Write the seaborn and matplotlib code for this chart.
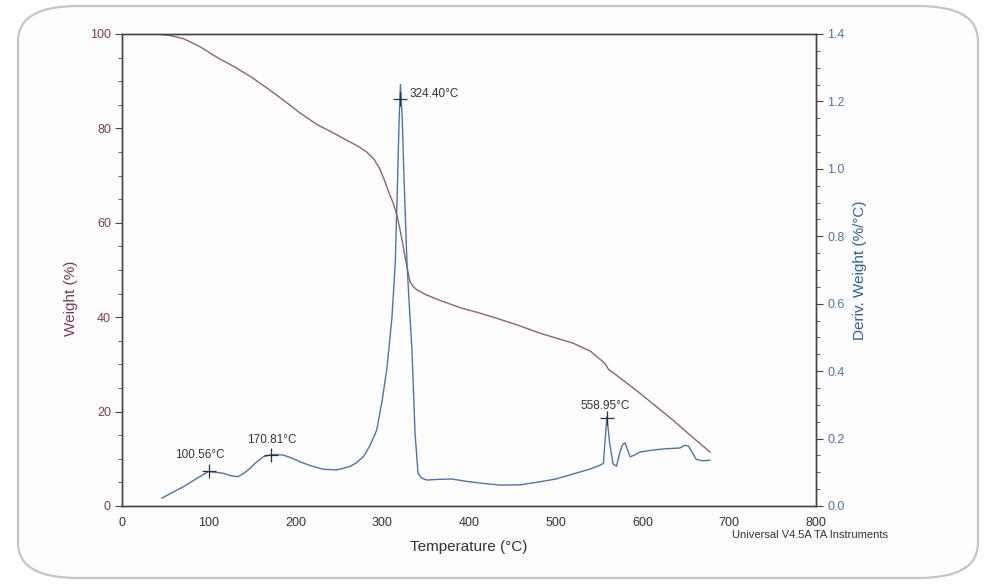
import matplotlib
matplotlib.use("Agg")
import matplotlib.pyplot as plt
from matplotlib.patches import FancyBboxPatch
import seaborn as sns
import pandas as pd

# ---------------- data ----------------
weight_T = [40, 55, 71, 90, 110, 130, 148, 166, 186, 205, 225, 244, 262, 274, 282, 290,
            297, 303, 309, 313, 317, 320, 323, 327, 332, 336, 340, 350, 366, 390, 410, 428,
            455, 482, 500, 520, 540, 555, 558, 561, 565, 580, 597, 615, 635, 655, 678]
weight_W = [100, 99.7, 99, 97.3, 95.0, 93.0, 91.0, 88.7, 86.0, 83.3, 80.8, 79.0, 77.2, 76.0,
            75.0, 73.6, 71.5, 68.8, 65.8, 64.0, 61.5, 59.0, 56.2, 52.0, 47.5, 46.4, 45.8,
            44.8, 43.6, 42.0, 41.0, 40.0, 38.4, 36.6, 35.6, 34.5, 32.8, 30.5, 29.8, 28.9,
            28.4, 26.3, 23.9, 21.2, 18.2, 15.0, 11.4]

deriv_T = [45.7, 58, 70.7, 85, 99.5, 108, 116.8, 125, 134, 141, 147.6, 155, 162.9, 170,
           176.4, 186, 196, 205.2, 218, 232, 247.5, 262.8, 270, 278.2, 286, 293.6, 299.7,
           305.5, 311.2, 315, 317.5, 319.5, 321, 323, 325, 328.5, 331.5, 334.3, 337.8,
           341.2, 345, 351.6, 365, 380, 400, 420, 436, 460, 482, 500, 520, 540, 552, 555,
           557, 559, 562, 566, 570, 574, 577, 580, 583, 585.6, 590, 597, 612, 628, 643,
           649, 653, 657, 662, 670, 678]
deriv_D = [0.023, 0.040, 0.057, 0.080, 0.102, 0.100, 0.097, 0.090, 0.087, 0.098, 0.112,
           0.130, 0.146, 0.151, 0.153, 0.151, 0.142, 0.131, 0.119, 0.109, 0.107, 0.117,
           0.128, 0.146, 0.180, 0.225, 0.31, 0.41, 0.56, 0.72, 0.95, 1.15, 1.25, 1.15,
           0.98, 0.72, 0.58, 0.46, 0.216, 0.098, 0.083, 0.077, 0.079, 0.080, 0.072, 0.066,
           0.062, 0.063, 0.072, 0.080, 0.095, 0.110, 0.122, 0.127, 0.20, 0.265, 0.19,
           0.125, 0.118, 0.16, 0.182, 0.187, 0.165, 0.146, 0.150, 0.160, 0.166, 0.170,
           0.172, 0.180, 0.178, 0.160, 0.138, 0.134, 0.136]

peak_T = [100.5, 172, 321, 559]
peak_D = [0.105, 0.152, 1.207, 0.26]
peak_labels = ["100.56°C", "170.81°C", "324.40°C", "558.95°C"]
label_T = [61, 144, 332, 528]
label_D = [0.151, 0.196, 1.222, 0.297]

x_ticks = [0, 100, 200, 300, 400, 500, 600, 700, 800]
w_ticks = [0, 20, 40, 60, 80, 100]
d_ticks = [0.0, 0.2, 0.4, 0.6, 0.8, 1.0, 1.2, 1.4]

# ---------------- style ----------------
sns.set_style("white")
plt.rcParams['font.family'] = ['Liberation Sans', 'DejaVu Sans']

W_COL = '#8c6470'
W_TXT = '#7a3a55'
D_COL = '#4f74a8'
D_TXT = '#2f5f9f'
AX_COL = '#444444'

fig = plt.figure(figsize=(9.89, 5.86), dpi=100)
fig.patch.set_facecolor('white')

# scanned-page rounded frame
frame = FancyBboxPatch((18 / 989, 8 / 586), (978 - 18) / 989, (580 - 8) / 586,
                       boxstyle="round,pad=0,rounding_size=0.06",
                       transform=fig.transFigure, facecolor='#fdfdfd',
                       edgecolor='#c4c4c4', lw=1.6, zorder=-10)
fig.patches.append(frame)

ax = fig.add_axes([122 / 989, 1 - 506 / 586, (816 - 122) / 989, (506 - 34) / 586])
ax.set_facecolor('none')
ax2 = ax.twinx()

dfw = pd.DataFrame({'T': weight_T, 'W': weight_W})
dfd = pd.DataFrame({'T': deriv_T, 'D': deriv_D})

sns.lineplot(data=dfw, x='T', y='W', ax=ax, color=W_COL, lw=1.0)
sns.lineplot(data=dfd, x='T', y='D', ax=ax2, color=D_COL, lw=1.0)

ax.set_xlim(0, 800)
ax.set_ylim(0, 100)
ax2.set_ylim(0, 1.4)

ax.set_xticks(x_ticks)
ax.set_xticks(range(0, 801, 50), minor=True)
ax.set_yticks(w_ticks)
ax.set_yticks(range(0, 101, 5), minor=True)
ax2.set_yticks(d_ticks)
ax2.set_yticks([i * 0.05 for i in range(29)], minor=True)
ax2.set_yticklabels([f"{v:.1f}" for v in d_ticks])

for a in (ax, ax2):
    for s in a.spines.values():
        s.set_color(AX_COL)
        s.set_linewidth(1.0)

ax.tick_params(axis='x', which='major', direction='out', length=5, width=0.8,
               colors=AX_COL, labelsize=9, labelcolor='#333333', pad=3)
ax.tick_params(axis='x', which='minor', direction='out', length=3, width=0.6, colors=AX_COL)
ax.tick_params(axis='y', which='major', direction='out', length=5, width=0.8,
               colors=AX_COL, labelsize=9, labelcolor=W_TXT, pad=3)
ax.tick_params(axis='y', which='minor', direction='out', length=3, width=0.6, colors=AX_COL)
ax2.tick_params(axis='y', which='major', direction='out', length=5, width=0.8,
                colors=AX_COL, labelsize=9, labelcolor=D_COL, pad=3)
ax2.tick_params(axis='y', which='minor', direction='out', length=3, width=0.6, colors=AX_COL)

ax.set_xlabel("Temperature (°C)", fontsize=11, color='#333333')
ax.set_ylabel("Weight (%)", fontsize=11, color=W_TXT)
ax2.set_ylabel("Deriv. Weight (%/°C)", fontsize=11, color=D_TXT)
ax.xaxis.set_label_coords(0.5, -0.072)
ax.yaxis.set_label_coords(-0.063, 0.44)
ax2.yaxis.set_label_coords(1.054, 0.5)

for t, d, lab, lt, ld in zip(peak_T, peak_D, peak_labels, label_T, label_D):
    ax2.plot([t], [d], marker='+', ms=10, mew=0.9, color='#333333', zorder=5)
    ax2.text(lt, ld, lab, fontsize=8.5, color='#333333', ha='left', va='center')

fig.text(732 / 989, 1 - 535 / 586, "Universal V4.5A TA Instruments", fontsize=8,
         color='#333333', ha='left', va='center')

fig.savefig("out.png", dpi=100)
